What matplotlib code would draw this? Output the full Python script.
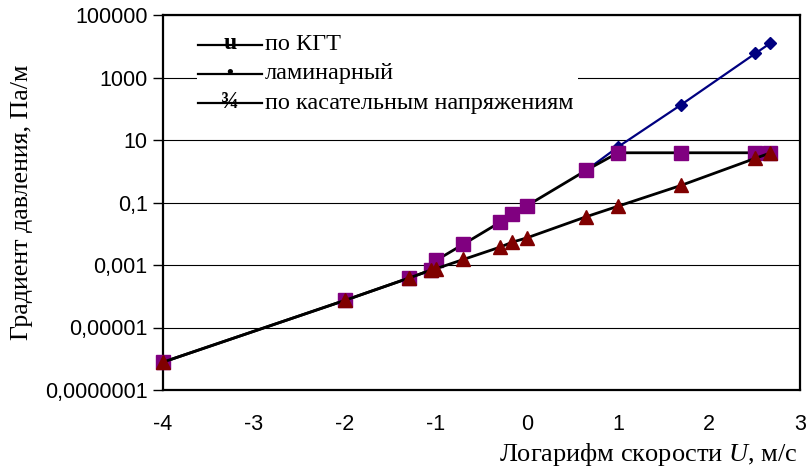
import matplotlib
matplotlib.use("Agg")
import matplotlib.pyplot as plt
from matplotlib.patches import Rectangle
from matplotlib.lines import Line2D
from matplotlib.ticker import FixedLocator, FixedFormatter, NullLocator

plt.rcParams["mathtext.fontset"] = "custom"
plt.rcParams["mathtext.it"] = "Liberation Serif:italic"
plt.rcParams["mathtext.rm"] = "Liberation Serif"

# log10 of flow velocity U
x_kgt = [-4.0, -2.0, -1.3, -1.06, -1.0, -0.7, -0.3, -0.16, 0.0, 0.65, 1.0, 1.69, 2.51, 2.67]
y_kgt = [7.8e-7, 7.4e-5, 3.8e-4, 6.8e-4, 1.4e-3, 4.6e-3, 0.023, 0.042, 0.079,
         1.07, 3.9, 3.9, 3.9, 3.9]

x_lam = [0.65, 1.0, 1.69, 2.51, 2.67]
y_lam = [1.07, 6.0, 132.0, 5900.0, 12300.0]

x_tau = [-4.0, -2.0, -1.3, -1.06, -1.0, -0.7, -0.3, -0.16, 0.0, 0.65, 1.0, 1.69, 2.51, 2.67]
y_tau = [7.8e-7, 7.4e-5, 3.8e-4, 6.8e-4, 7.6e-4, 1.5e-3, 3.7e-3, 5.4e-3, 7.4e-3,
         0.035, 0.076, 0.35, 2.6, 3.8]

x_ticks = [-4, -3, -2, -1, 0, 1, 2, 3]
y_ticks = [1e-7, 1e-5, 1e-3, 1e-1, 1e1, 1e3, 1e5]
y_tick_labels = ["0,0000001", "0,00001", "0,001", "0,1", "10", "1000", "100000"]

legend_labels = ["по КГТ", "ламинарный", "по касательным напряжениям"]
legend_glyphs = ["u", "•", "¾"]

W, H = 808, 475
fig = plt.figure(figsize=(W / 100, H / 100), dpi=100)
fig.patch.set_facecolor("white")

L, R, T, B = 163, 800, 15, 390
ax = fig.add_axes([L / W, 1 - B / H, (R - L) / W, (B - T) / H])
ax.set_yscale("log")
ax.set_xlim(-4, 3)
ax.set_ylim(1e-7, 1e5)

sans = "Liberation Sans"
serif = "Liberation Serif"

ax.yaxis.set_major_locator(FixedLocator(y_ticks))
ax.yaxis.set_major_formatter(FixedFormatter(y_tick_labels))
ax.yaxis.set_minor_locator(NullLocator())
ax.set_xticks(x_ticks)
ax.set_xticklabels([str(v) for v in x_ticks])
ax.tick_params(axis="y", direction="out", length=7, width=1.0, color="black",
               labelsize=15.5, pad=4)
ax.tick_params(axis="x", length=0, labelsize=15.5, pad=17)
for lab in ax.get_xticklabels() + ax.get_yticklabels():
    lab.set_fontfamily(sans)

for s in ax.spines.values():
    s.set_linewidth(1.6)
    s.set_color("black")

for v in y_ticks:
    ax.axhline(v, color="black", lw=0.8, zorder=1)

# white legend panel over the grid
fig.patches.append(Rectangle((197 / W, 1 - 120 / H), (578 - 197) / W, (120 - 28) / H,
                             transform=fig.transFigure, facecolor="white",
                             edgecolor="none", zorder=2))

ax.plot(x_lam, y_lam, color="#000080", lw=1.6, marker="D", ms=6.5,
        mfc="#000080", mec="#000080", zorder=3, clip_on=False)
ax.plot(x_kgt, y_kgt, color="black", lw=2.0, marker="s", ms=9.5,
        mfc="#800080", mec="#800080", zorder=4, clip_on=False)
ax.plot(x_tau, y_tau, color="black", lw=2.0, marker="^", ms=10,
        mfc="#800000", mec="#800000", zorder=5, clip_on=False)

rows_y = [45, 74, 103]
for yy, glyph, lab in zip(rows_y, legend_glyphs, legend_labels):
    fy = 1 - yy / H
    fig.lines.append(Line2D([198 / W, 262 / W], [fy, fy], transform=fig.transFigure,
                            color="black", lw=1.6, zorder=6))
    gsize = 14 if glyph == "•" else 17
    fig.text(230 / W, fy + (0.004 if glyph == "u" else 0), glyph, ha="center",
             va="center", fontsize=gsize, fontfamily=serif, fontweight="bold", zorder=7)
    fig.text(265 / W, fy, lab, ha="left", va="center", fontsize=17.5,
             fontfamily=serif, zorder=7)

fig.text(22 / W, 1 - 202 / H, "Градиент давления, Па/м", rotation=90,
         ha="center", va="center", fontsize=18.7, fontfamily=serif)
fig.text(797 / W, 1 - 455 / H, "Логарифм скорости $\\mathit{U}$, м/с",
         ha="right", va="center", fontsize=19, fontfamily=serif)

fig.savefig("out.png", dpi=100)
